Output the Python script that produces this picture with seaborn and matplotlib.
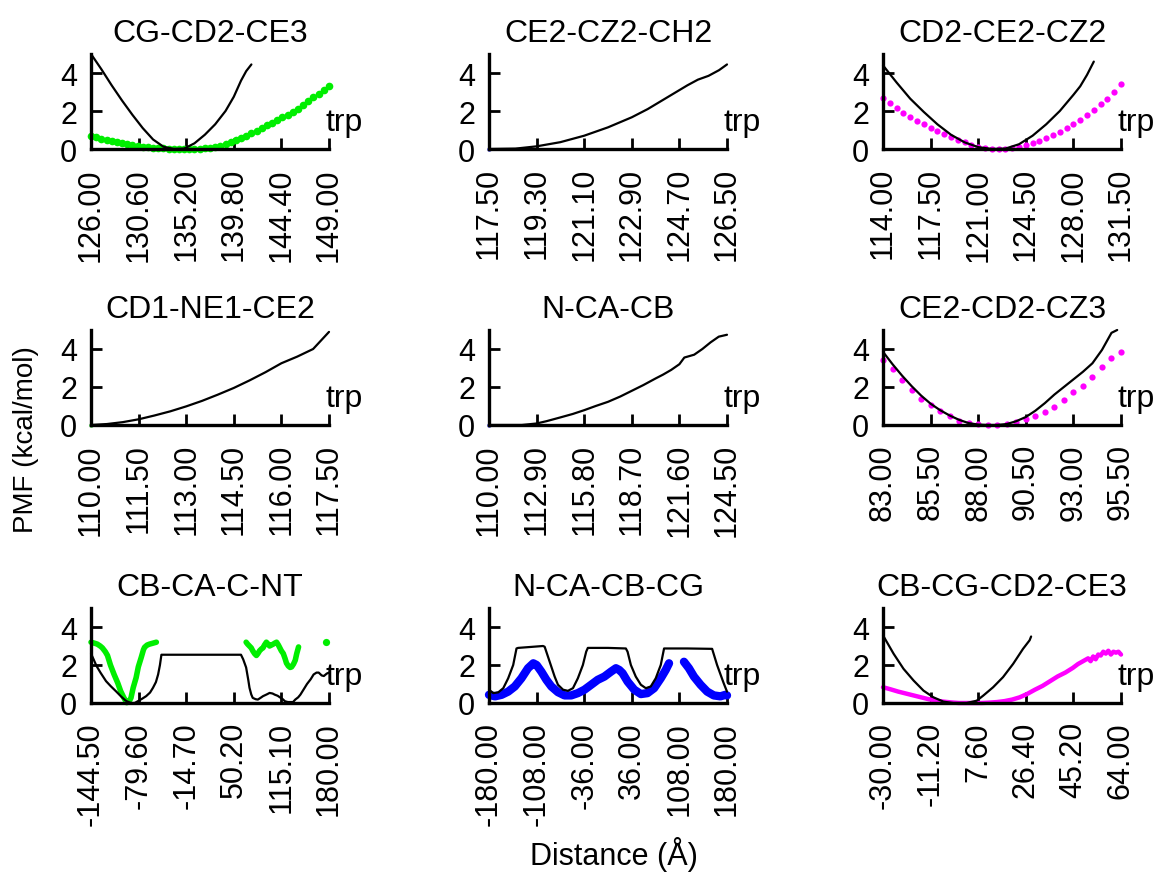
import numpy as np
import pandas as pd
import matplotlib
matplotlib.use("Agg")
import matplotlib.pyplot as plt
import seaborn as sns

sns.set_style("ticks")
plt.rcParams["font.family"] = ["Liberation Sans", "DejaVu Sans"]
plt.rcParams["text.color"] = "black"
plt.rcParams["axes.labelcolor"] = "black"
plt.rcParams["xtick.color"] = "black"
plt.rcParams["ytick.color"] = "black"

# ---------------------------------------------------------------- panel data
titles = ["CG-CD2-CE3", "CE2-CZ2-CH2", "CD2-CE2-CZ2",
          "CD1-NE1-CE2", "N-CA-CB", "CE2-CD2-CZ3",
          "CB-CA-C-NT", "N-CA-CB-CG", "CB-CG-CD2-CE3"]

xtick_values = [
    [126.0, 130.6, 135.2, 139.8, 144.4, 149.0],
    [117.5, 119.3, 121.1, 122.9, 124.7, 126.5],
    [114.0, 117.5, 121.0, 124.5, 128.0, 131.5],
    [110.0, 111.5, 113.0, 114.5, 116.0, 117.5],
    [110.0, 112.9, 115.8, 118.7, 121.6, 124.5],
    [83.0, 85.5, 88.0, 90.5, 93.0, 95.5],
    [-144.5, -79.6, -14.7, 50.2, 115.1, 180.0],
    [-180.0, -108.0, -36.0, 36.0, 108.0, 180.0],
    [-30.0, -11.2, 7.6, 26.4, 45.2, 64.0],
]
ytick_values = [0, 2, 4]
series_label = "trp"

# 1: CG-CD2-CE3
p1_line_x = [126, 127, 128, 129, 130, 131, 132, 133, 134, 135, 136, 137, 138,
             139, 139.8, 140.5, 141, 141.5]
p1_line_y = [5.0, 4.2, 3.35, 2.55, 1.8, 1.1, 0.5, 0.12, 0.0, 0.02, 0.3, 0.75,
             1.3, 2.0, 2.75, 3.6, 4.1, 4.45]
p1_pts_y = [0.70, 0.62, 0.55, 0.48, 0.42, 0.36, 0.30, 0.25, 0.21, 0.17, 0.13,
            0.10, 0.07, 0.05, 0.03, 0.01, 0.0, 0.0, 0.0, 0.0, 0.0, 0.02, 0.04,
            0.07, 0.11, 0.17, 0.24, 0.35, 0.45, 0.57, 0.70, 0.83, 0.96, 1.10,
            1.24, 1.38, 1.52, 1.66, 1.80, 1.96, 2.13, 2.32, 2.52, 2.72, 2.92,
            3.12, 3.30]

# 2: CE2-CZ2-CH2
p2_line_x = [117.5, 118.5, 119.3, 120.2, 121.1, 122.0, 122.9, 123.5, 124.1,
             124.7, 125.0, 125.4, 125.8, 126.2, 126.5]
p2_line_y = [0.0, 0.02, 0.14, 0.36, 0.7, 1.14, 1.67, 2.1, 2.6, 3.1, 3.35,
             3.65, 3.85, 4.15, 4.45]
p2_pts_y = [0.0]

# 3: CD2-CE2-CZ2
p3_line_x = [114, 115, 116, 117, 118, 119, 120, 121, 122, 123, 124, 125, 126,
             127, 128, 128.5, 129, 129.5]
p3_line_y = [4.4, 3.5, 2.65, 1.95, 1.3, 0.75, 0.35, 0.1, 0.0, 0.02, 0.25, 0.7,
             1.3, 2.0, 2.85, 3.3, 3.9, 4.6]
p3_pts_y = [2.7, 2.4, 2.15, 1.9, 1.7, 1.5, 1.3, 1.12, 0.95, 0.78, 0.62, 0.48,
            0.35, 0.22, 0.12, 0.05, 0.0, 0.0, 0.02, 0.06, 0.12, 0.2, 0.3, 0.42,
            0.56, 0.72, 0.9, 1.1, 1.32, 1.55, 1.8, 2.05, 2.35, 2.65, 3.0, 3.4]

# 4: CD1-NE1-CE2
p4_line_x = [110, 110.5, 111, 111.5, 112, 112.5, 113, 113.5, 114, 114.5, 115,
             115.5, 116, 116.5, 117, 117.5]
p4_line_y = [0.0, 0.05, 0.15, 0.3, 0.5, 0.72, 0.98, 1.27, 1.6, 1.95, 2.35,
             2.78, 3.25, 3.6, 4.0, 4.9]
p4_pts_y = [0.0]

# 5: N-CA-CB
p5_line_x = [110, 111, 112, 112.9, 113.5, 114.35, 115.1, 115.8, 116.5, 117.25,
             118, 118.7, 119.4, 120.15, 120.6, 121.1, 121.6, 121.9, 122.5, 123,
             123.5, 124, 124.5]
p5_line_y = [0.0, 0.0, 0.0, 0.08, 0.2, 0.4, 0.58, 0.78, 1.0, 1.22, 1.5, 1.8,
             2.1, 2.45, 2.65, 2.9, 3.2, 3.55, 3.7, 4.0, 4.35, 4.65, 4.75]
p5_pts_y = [0.0]

# 6: CE2-CD2-CZ3
p6_line_x = [83, 83.5, 84, 84.5, 85, 85.5, 86, 86.5, 87, 87.5, 88, 88.5, 89,
             89.5, 90, 90.5, 91, 91.5, 92, 92.5, 93, 93.5, 94, 94.5, 95, 95.3]
p6_line_y = [3.85, 3.2, 2.6, 2.05, 1.55, 1.12, 0.78, 0.5, 0.27, 0.1, 0.02, 0.0,
             0.0, 0.05, 0.2, 0.42, 0.75, 1.15, 1.6, 2.0, 2.4, 2.8, 3.25, 3.95,
             4.85, 5.0]
p6_pts_y = [3.43, 2.95, 2.35, 1.86, 1.38, 1.05, 0.73, 0.46, 0.22, 0.1, 0.03,
            0.0, 0.0, 0.06, 0.16, 0.3, 0.45, 0.66, 0.93, 1.29, 1.73, 2.05, 2.54,
            3.07, 3.55, 3.84]

# 7: CB-CA-C-NT
p7_line_x = [-144.5, -141, -137, -131.6, -124, -117.7, -110, -103.9, -98,
             -95.6, -90, -85, -80.8, -75, -69.3, -64, -60, -56, -53, -50.5,
             -48.5, -30, 0, 30, 60, 63, 67, 70, 71.6, 74, 76, 80, 83, 87, 90,
             95, 99, 103, 106, 110, 113, 117, 120, 124, 127, 131, 134, 138, 141,
             146, 150, 155, 159, 163, 166, 170, 173, 177, 180]
p7_line_y = [2.6, 2.3, 1.95, 1.6, 1.15, 0.89, 0.6, 0.36, 0.15, 0.09, 0.0, 0.0,
             0.09, 0.22, 0.36, 0.55, 0.8, 1.1, 1.5, 2.0, 2.54, 2.54, 2.54, 2.54,
             2.54, 2.3, 1.87, 1.2, 0.8, 0.45, 0.27, 0.2, 0.18, 0.28, 0.36, 0.45,
             0.53, 0.5, 0.44, 0.38, 0.3, 0.2, 0.09, 0.05, 0.05, 0.05, 0.18, 0.3,
             0.44, 0.75, 1.0, 1.25, 1.5, 1.6, 1.6, 1.45, 1.42, 1.55, 1.6]
p7_pts_x = [-144.5, -140, -136, -132, -129, -125, -122, -118, -113, -108, -104,
            -100, -96, -93, -90, -87, -83, -80, -76, -73, -71.5, -68, -64.6,
            -60, -55.4,
            67, 69, 71.5, 74, 76, 78.5, 81, 83, 85.4, 88, 90, 92, 94.6, 97, 99,
            101.5, 104, 106, 108.5, 111, 113, 115, 117.7, 120, 122, 124.5, 127,
            129, 131.6, 134, 136, 138.5,
            175.5]
p7_pts_y = [3.2, 3.15, 3.1, 3.0, 2.9, 2.7, 2.5, 2.0, 1.5, 1.05, 0.62, 0.3,
            0.02, 0.05, 0.27, 0.8, 1.33, 1.9, 2.4, 2.8, 2.93, 3.05, 3.1, 3.15,
            3.2,
            3.2, 3.1, 3.0, 2.9, 2.75, 2.6, 2.5, 2.6, 2.75, 2.85, 2.9, 3.05, 3.2,
            3.1, 3.0, 3.05, 3.1, 3.15, 3.2, 3.05, 2.9, 2.75, 2.6, 2.35, 2.1,
            1.95, 1.87, 1.9, 2.05, 2.25, 2.6, 2.95,
            3.2]
p7_pts_seg = [0] * 25 + [1] * 32 + [2]

# 8: N-CA-CB-CG
p8_line_x = [-180, -173.5, -166, -158.4, -151, -143.4, -138.4, -136, -117,
             -98.3, -95.8, -88.2, -80.7, -75.7, -68, -60.6, -53, -45.6, -38,
             -33, -30.5, 0, 27, 29.6, 34.6, 42, 49.7, 57.2, 64.7, 72.2, 79.8,
             84.8, 120, 157.5, 165, 175, 180]
p8_line_y = [0.7, 0.52, 0.56, 0.78, 1.3, 2.0, 2.87, 2.9, 2.95, 3.0, 2.96,
             2.17, 1.39, 0.96, 0.7, 0.64, 0.78, 1.3, 2.0, 2.7, 2.9, 2.9, 2.87,
             2.7, 2.0, 1.39, 0.96, 0.78, 0.87, 1.3, 2.0, 2.87, 2.87, 2.85, 2.0,
             1.04, 0.6]
p8_pts_x = [-180, -171, -161, -151, -141, -131, -121, -113, -108, -100.8,
            -93.2, -85.7, -75.7, -65.7, -55.6, -45.6, -35.6, -25.5, -15.5,
            -5.5, 4.5, 12, 17, 22, 29.6, 39.7, 49.7, 59.7, 69.7, 79.8, 87.3,
            92.3,
            114.9, 122.4, 130, 140, 150, 160, 170, 177.5, 180]
p8_pts_y = [0.43, 0.35, 0.43, 0.6, 0.87, 1.3, 1.83, 2.09, 2.0, 1.65, 1.22,
            0.87, 0.57, 0.4, 0.4, 0.52, 0.7, 0.96, 1.22, 1.39, 1.65, 1.83,
            1.74, 1.57, 1.13, 0.7, 0.47, 0.52, 0.78, 1.3, 1.74, 2.09,
            2.17, 1.83, 1.39, 0.96, 0.6, 0.4, 0.35, 0.43, 0.4]
p8_pts_seg = [0] * 32 + [1] * 9

# 9: CB-CG-CD2-CE3
p9_line_x = [-30, -25.8, -21.9, -17.9, -14, -10.1, -6.1, -2.2, 3, 7, 9.6,
             13.5, 17.4, 21.4, 25.3, 27.9, 28.5]
p9_line_y = [3.56, 2.59, 1.8, 1.18, 0.65, 0.3, 0.07, 0.0, 0.0, 0.12, 0.39,
             0.83, 1.36, 2.06, 2.85, 3.3, 3.5]
p9_pts_x = [-30, -27, -24, -21, -18, -15, -12, -9, -6, -3, 0, 3, 6, 9, 12, 15,
            18, 21, 24, 27, 30, 33, 36, 39, 42, 45, 47, 49, 51, 52, 53, 54, 55,
            56, 57, 58, 59, 60, 61, 62, 63, 64]
p9_pts_y = [0.83, 0.72, 0.6, 0.5, 0.4, 0.3, 0.2, 0.12, 0.07, 0.03, 0.0, 0.0,
            0.0, 0.0, 0.02, 0.05, 0.1, 0.18, 0.3, 0.48, 0.7, 0.9, 1.15, 1.4,
            1.6, 1.85, 2.05, 2.2, 2.35, 2.2, 2.45, 2.3, 2.55, 2.5, 2.7, 2.6,
            2.75, 2.55, 2.7, 2.65, 2.7, 2.55]

GREEN, MAGENTA, BLUE = "#00ee00", "#ff00ff", "#0000ff"

# style of the coloured series per panel: (colour, kind, size)
#   kind "dots" -> separate markers, "band" -> dense points drawn as thick trace
color_styles = [
    (GREEN, "dots", 5.5), (BLUE, "dots", 3), (MAGENTA, "dots", 4.5),
    (GREEN, "dots", 3), (BLUE, "dots", 3), (MAGENTA, "dots", 4.5),
    (GREEN, "band", 4.0), (BLUE, "band", 6.0), (MAGENTA, "band", 3.2),
]


def grid(values, ticks):
    return np.linspace(ticks[0], ticks[-1], len(values))


panels = [
    (p1_line_x, p1_line_y, grid(p1_pts_y, xtick_values[0]), p1_pts_y, None),
    (p2_line_x, p2_line_y, [xtick_values[1][0]], p2_pts_y, None),
    (p3_line_x, p3_line_y, grid(p3_pts_y, xtick_values[2]), p3_pts_y, None),
    (p4_line_x, p4_line_y, [xtick_values[3][0]], p4_pts_y, None),
    (p5_line_x, p5_line_y, [xtick_values[4][0]], p5_pts_y, None),
    (p6_line_x, p6_line_y, grid(p6_pts_y, xtick_values[5]), p6_pts_y, None),
    (p7_line_x, p7_line_y, p7_pts_x, p7_pts_y, p7_pts_seg),
    (p8_line_x, p8_line_y, p8_pts_x, p8_pts_y, p8_pts_seg),
    (p9_line_x, p9_line_y, p9_pts_x, p9_pts_y, [0] * len(p9_pts_x)),
]

# ---------------------------------------------------------------- layout
W, H = 1164, 878
fig = plt.figure(figsize=(W / 100, H / 100), dpi=100)

col_left_px = [91, 489, 883]
row_base_px = [150, 426, 704]
ax_w_px, ax_h_px = 238, 95

FS = 22
for i, (lx, ly, px, py, seg) in enumerate(panels):
    r, c = divmod(i, 3)
    ax = fig.add_axes([col_left_px[c] / W, (H - row_base_px[r]) / H,
                       ax_w_px / W, ax_h_px / H])
    ticks = xtick_values[i]
    color, kind, size = color_styles[i]

    if kind == "dots":
        sns.scatterplot(x=px, y=py, color=color, s=size ** 2, marker="o",
                        linewidth=0, ax=ax, legend=False, clip_on=False,
                        zorder=2)
    else:
        df = pd.DataFrame({"x": px, "y": py, "seg": seg})
        sns.lineplot(data=df, x="x", y="y", units="seg", estimator=None,
                     sort=False, color=color, lw=size, ax=ax, legend=False,
                     solid_capstyle="round", solid_joinstyle="round",
                     clip_on=False, zorder=2)
        single = df.groupby("seg").filter(lambda g: len(g) == 1)
        if len(single):
            sns.scatterplot(data=single, x="x", y="y", color=color,
                            s=(size * 1.3) ** 2, linewidth=0, ax=ax,
                            legend=False, clip_on=False, zorder=2)

    sns.lineplot(x=lx, y=ly, color="black", lw=1.6, ax=ax, legend=False,
                 sort=False, estimator=None, clip_on=False, zorder=3)

    ax.set_xlim(ticks[0], ticks[-1])
    ax.set_ylim(0, 5)
    ax.set_xticks(ticks)
    ax.set_xticklabels([f"{t:.2f}" for t in ticks], rotation=90)
    ax.set_yticks(ytick_values)
    ax.set_yticklabels([str(v) for v in ytick_values])
    ax.set_xlabel("")
    ax.set_ylabel("")
    ax.tick_params(axis="both", direction="in", length=8, width=2,
                   labelsize=FS, colors="black")
    ax.tick_params(axis="x", pad=13)
    ax.tick_params(axis="y", pad=10)
    for side in ("top", "right"):
        ax.spines[side].set_visible(False)
    for side in ("left", "bottom"):
        ax.spines[side].set_linewidth(2.4)
        ax.spines[side].set_color("black")
    ax.patch.set_alpha(0)
    ax.set_title(titles[i], fontsize=23, pad=9, color="black")
    ax.text(0.985, 0.2, series_label, transform=ax.transAxes, fontsize=23,
            ha="left", va="baseline", color="black")

fig.text(26 / W, 0.499, "PMF (kcal/mol)", rotation=90, fontsize=20,
         ha="center", va="center", color="black")
fig.text(614 / W, (H - 855) / H, "Distance (\u00c5)", fontsize=22,
         ha="center", va="center", color="black")

fig.savefig("out.png", dpi=100, facecolor="white")
